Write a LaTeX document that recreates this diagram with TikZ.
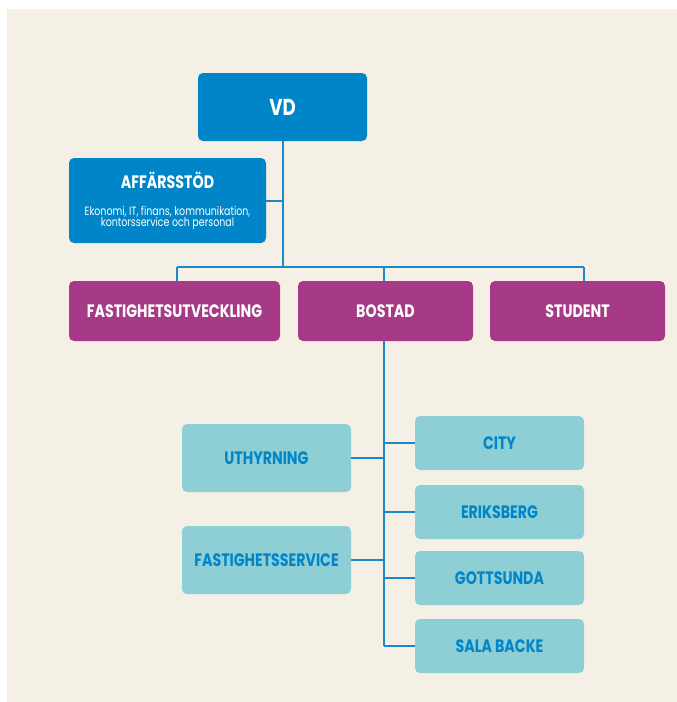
\documentclass[tikz,border=0pt]{standalone}
\usepackage{fontspec}
\setmainfont{Poppins}[FakeStretch=0.79]
\usepackage{tikz}
\usetikzlibrary{positioning, calc}

\definecolor{bgbeige}{HTML}{F5F0E6}
\definecolor{vdblue}{HTML}{0086C8}
\definecolor{areapurple}{HTML}{A63A87}
\definecolor{unitteal}{HTML}{8ECFD6}
\definecolor{linkblue}{HTML}{1B88C9}

\newcommand{\subline}[1]{{\fontsize{12}{13}\selectfont\mdseries #1}}

\begin{document}
\begin{tikzpicture}[x=1pt, y=-1pt, node distance=68pt]
        \tikzstyle{org}=[rectangle, rounded corners=5pt, inner sep=0pt, align=center, font=\fontsize{18}{20}\selectfont\bfseries];
        \tikzstyle{head}=[org, fill=vdblue, text=white];
        \tikzstyle{area}=[org, fill=areapurple, text=white, minimum height=60pt];
        \tikzstyle{unit}=[org, fill=unitteal, text=vdblue, minimum width=169pt];
        \tikzstyle{link}=[draw=linkblue, line width=2pt];

        \useasboundingbox (0,0) rectangle (677,702);
        \fill[bgbeige] (7,9) rectangle (677,702);

        \node[head, minimum width=169pt, minimum height=68pt, font=\fontsize{23}{25}\selectfont\bfseries] (vd) at (282.5,107) {VD};
        \node[head, minimum width=197pt, minimum height=85pt] (stod) at (167.5,200.5) {AFFÄRSSTÖD\\[7pt]\subline{Ekonomi, IT, finans, kommunikation,}\\[-9pt]\subline{kontorsservice och personal}};

        \node[area, minimum width=211pt] (utv) at (174.5,311) {FASTIGHETSUTVECKLING};
        \node[area, minimum width=175pt, right of=utv, xshift=143pt] (bostad) {BOSTAD};
        \node[area, minimum width=175pt, right of=bostad, xshift=124pt] (student) {STUDENT};

        \node[unit, minimum height=68pt] (uthyr) at (266.5,458) {UTHYRNING};
        \node[unit, minimum height=68pt, below of=uthyr, yshift=-34pt] (fservice) {FASTIGHETSSERVICE};

        \node[unit, minimum height=54pt] (city) at (499.5,443) {CITY};
        \node[unit, minimum height=54pt, below of=city, yshift=-1pt] (eriks) {ERIKSBERG};
        \node[unit, minimum height=54pt, below of=eriks, yshift=2pt] (gotts) {GOTTSUNDA};
        \node[unit, minimum height=54pt, below of=gotts] (sala) {SALA BACKE};

        \coordinate (busL) at (177,267);
        \coordinate (busR) at (584,267);
        \coordinate (trunk) at (384,341);

        \path[link]
        (vd.south) edge (vd.south |- busL)
        (stod.east) edge (stod.east -| vd.south)
        (busL) edge (busR)
        (busL) edge (busL |- utv.north)
        (trunk |- busL) edge (trunk |- bostad.north)
        (busR) edge (busR |- student.north)
        (trunk) edge (trunk |- sala.west)
        (uthyr.east) edge (uthyr.east -| trunk)
        (fservice.east) edge (fservice.east -| trunk)
        (trunk |- city.west) edge (city.west)
        (trunk |- eriks.west) edge (eriks.west)
        (trunk |- gotts.west) edge (gotts.west)
        (trunk |- sala.west) edge (sala.west);
      \end{tikzpicture}
\end{document}
